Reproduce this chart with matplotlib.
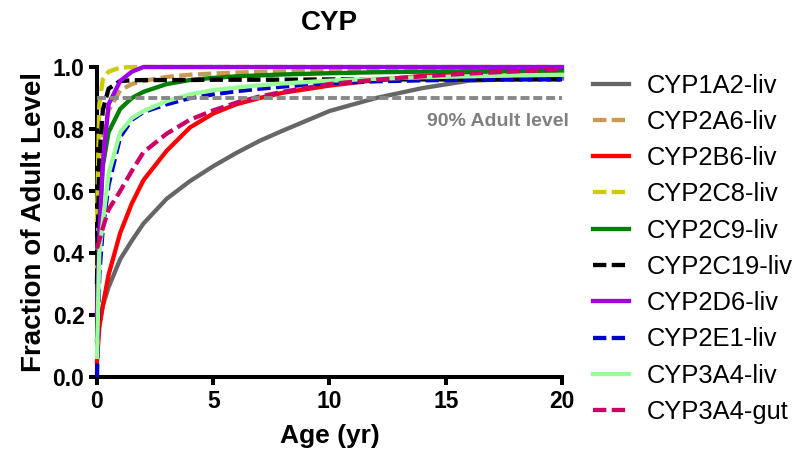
import matplotlib.pyplot as plt

# ==============================
# DATA
# ==============================

ages = [0, 0.1, 0.25, 0.5, 1, 1.5, 2, 3, 4, 5, 6, 7, 8, 10, 12, 14, 16, 18, 20]

cyp1a2_liv = [0.12, 0.17, 0.23, 0.29, 0.38, 0.44, 0.495, 0.575, 0.632, 0.68, 0.723, 0.762, 0.795,
              0.858, 0.90, 0.932, 0.956, 0.961, 0.963]
cyp2a6_liv = [0.35, 0.60, 0.77, 0.86, 0.925, 0.945, 0.955, 0.968, 0.975, 0.979, 0.982, 0.984, 0.986,
              0.988, 0.99, 0.991, 0.993, 0.994, 0.995]
cyp2b6_liv = [0.05, 0.16, 0.23, 0.33, 0.465, 0.56, 0.635, 0.73, 0.805, 0.85, 0.88, 0.90, 0.917,
              0.94, 0.958, 0.971, 0.979, 0.984, 0.988]
cyp2c8_liv = [0.50, 0.88, 0.96, 0.985, 0.998, 1.0, 1.0, 1.0, 1.0, 1.0, 1.0, 1.0, 1.0,
              1.0, 1.0, 1.0, 1.0, 1.0, 1.0]
cyp2c9_liv = [0.20, 0.50, 0.68, 0.79, 0.865, 0.90, 0.92, 0.945, 0.958, 0.965, 0.97, 0.973, 0.976,
              0.98, 0.983, 0.985, 0.986, 0.987, 0.988]
cyp2c19_liv = [0.30, 0.70, 0.86, 0.93, 0.955, 0.957, 0.958, 0.958, 0.958, 0.959, 0.959, 0.959, 0.959,
               0.96, 0.96, 0.96, 0.96, 0.96, 0.96]
cyp2d6_liv = [0.20, 0.45, 0.69, 0.88, 0.955, 0.985, 1.0, 1.0, 1.0, 1.0, 1.0, 1.0, 1.0,
              1.0, 1.0, 1.0, 1.0, 1.0, 1.0]
cyp2e1_liv = [0.0, 0.33, 0.48, 0.62, 0.775, 0.83, 0.855, 0.88, 0.90, 0.912, 0.922, 0.93, 0.937,
              0.948, 0.954, 0.957, 0.959, 0.96, 0.96]
cyp3a4_liv = [0.065, 0.40, 0.50, 0.655, 0.79, 0.835, 0.858, 0.89, 0.912, 0.925, 0.934, 0.941, 0.947,
              0.956, 0.962, 0.967, 0.97, 0.973, 0.975]
cyp3a4_gut = [0.415, 0.44, 0.48, 0.54, 0.60, 0.665, 0.725, 0.785, 0.83, 0.86, 0.885, 0.905, 0.92,
              0.945, 0.959, 0.97, 0.979, 0.986, 0.992]

series = [
    ("CYP1A2-liv", cyp1a2_liv, "#666666", "-"),
    ("CYP2A6-liv", cyp2a6_liv, "#cc9955", "--"),
    ("CYP2B6-liv", cyp2b6_liv, "#ff0000", "-"),
    ("CYP2C8-liv", cyp2c8_liv, "#cccc00", "--"),
    ("CYP2C9-liv", cyp2c9_liv, "#008000", "-"),
    ("CYP2C19-liv", cyp2c19_liv, "#000000", "--"),
    ("CYP2D6-liv", cyp2d6_liv, "#a000e6", "-"),
    ("CYP2E1-liv", cyp2e1_liv, "#0000cc", "--"),
    ("CYP3A4-liv", cyp3a4_liv, "#99ff99", "-"),
    ("CYP3A4-gut", cyp3a4_gut, "#cc0066", "--"),
]

adult_level = 0.9
xticks = [0, 5, 10, 15, 20]
yticks = [0.0, 0.2, 0.4, 0.6, 0.8, 1.0]

# ==============================
# PLOT
# ==============================

plt.rcParams['font.family'] = ['Liberation Sans', 'DejaVu Sans']

fig = plt.figure(figsize=(8.04, 4.54), dpi=100)
ax = fig.add_axes([0.1206, 0.1696, 0.5784, 0.6828])

for nome, valores, cor, estilo in series:
    linha, = ax.plot(ages, valores, color=cor, linestyle=estilo, lw=3.1,
                     label=nome, clip_on=False, zorder=3)
    if estilo == "--":
        linha.set_dashes((3.1, 1.25))

ref, = ax.plot([0, 20], [adult_level, adult_level], color="#888888", lw=2.8,
               clip_on=False, zorder=4)
ref.set_dashes((2.3, 1.0))
ax.text(20.3, 0.823, "90% Adult level", color="#808080", fontsize=14,
        fontweight="bold", ha="right", va="center")

ax.set_xlim(0, 20)
ax.set_ylim(0, 1.0)
ax.set_xticks(xticks)
ax.set_yticks(yticks)
ax.set_yticklabels([f"{v:.1f}" for v in yticks])

for lado in ["top", "right"]:
    ax.spines[lado].set_visible(False)
for lado in ["left", "bottom"]:
    ax.spines[lado].set_linewidth(2.9)

ax.tick_params(width=2.9, length=6, labelsize=16.5, pad=3)
for lbl in ax.get_xticklabels() + ax.get_yticklabels():
    lbl.set_fontweight("bold")

ax.set_xlabel("Age (yr)", fontsize=19, fontweight="bold", labelpad=8)
ax.set_ylabel("Fraction of Adult Level", fontsize=20, fontweight="bold", labelpad=4)
ax.set_title("CYP", fontsize=20, fontweight="bold", pad=27)

fig.legend(loc="center left", bbox_to_anchor=(593 / 804, 0.452),
           frameon=False, fontsize=18.4, handlelength=1.4, handletextpad=0.7,
           labelspacing=0.48, borderpad=0, borderaxespad=0)

plt.savefig("out.png", dpi=100)
plt.close()
